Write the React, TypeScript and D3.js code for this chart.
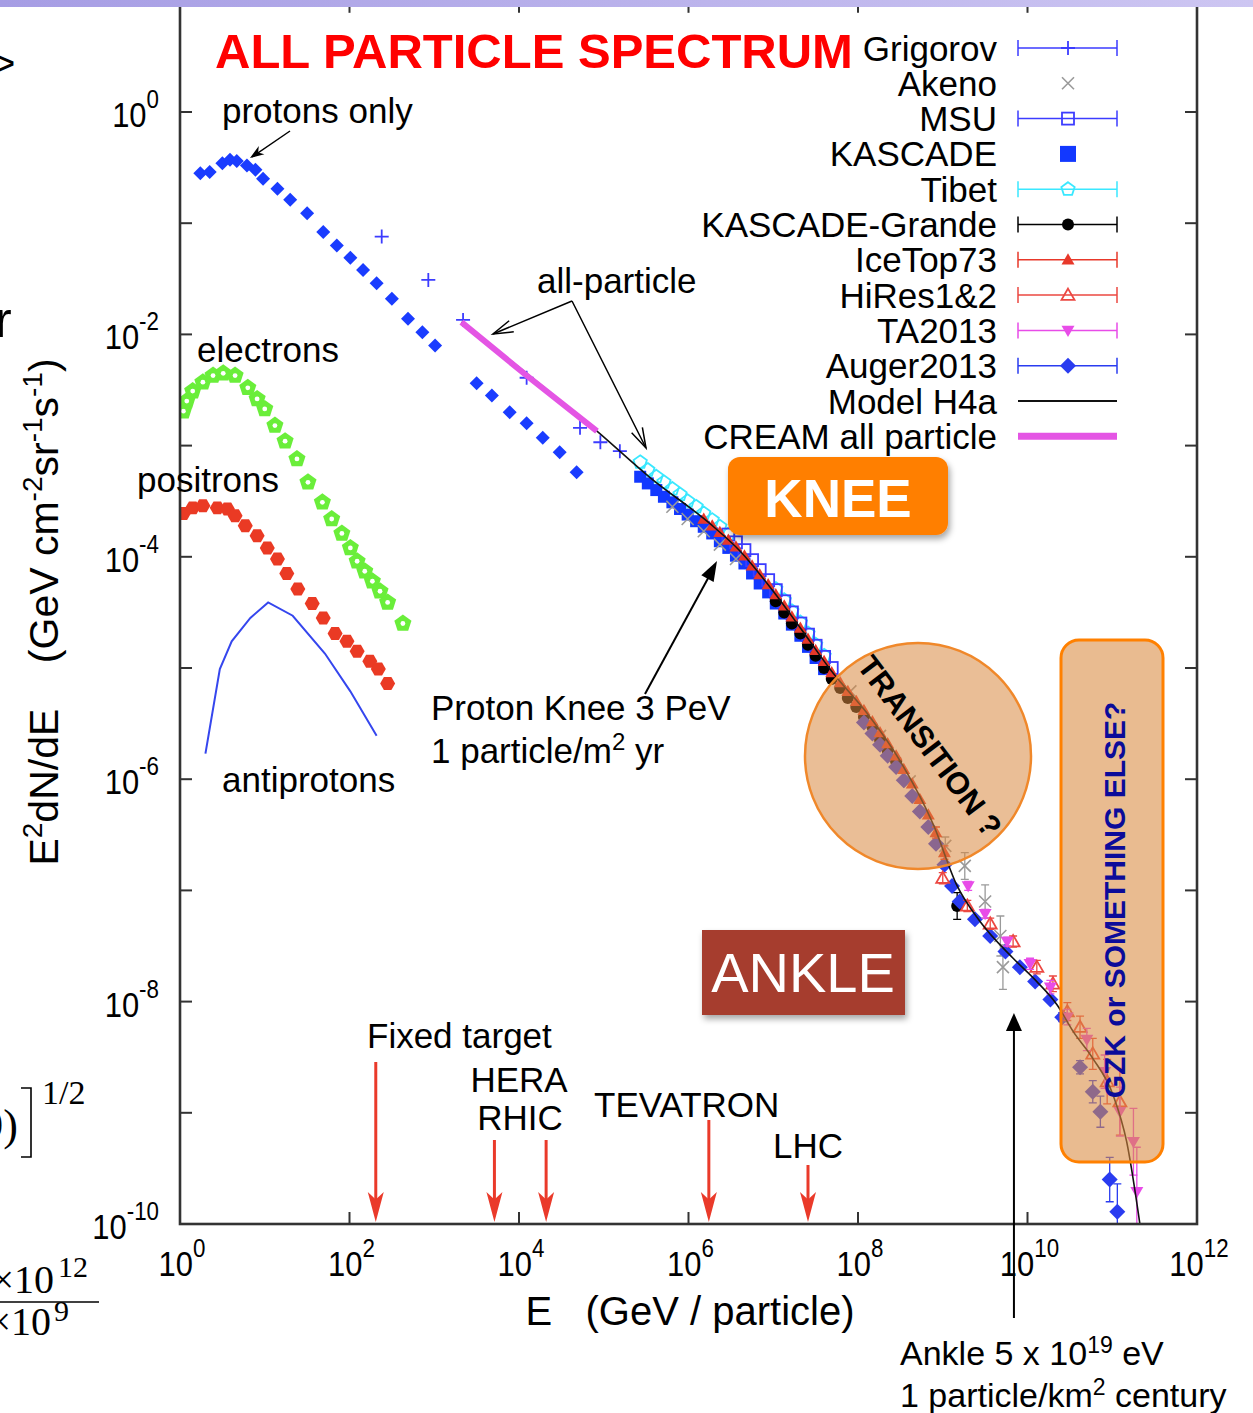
import React from "react";
import * as d3 from "d3";

// every pair is [log10(E / GeV), log10(E^2 dN/dE)], optional third value = error (log10 units)
const protons = [
  [0.24, -0.55], [0.35, -0.54], [0.5, -0.46], [0.59, -0.43], [0.67, -0.44], [0.79, -0.48],
  [0.89, -0.52], [0.98, -0.6], [1.15, -0.69], [1.3, -0.79], [1.5, -0.91], [1.69, -1.08],
  [1.85, -1.2], [2.01, -1.31], [2.16, -1.42], [2.32, -1.54], [2.5, -1.68], [2.69, -1.86],
  [2.86, -1.98], [3.01, -2.1], [3.5, -2.44], [3.68, -2.55], [3.89, -2.7], [4.09, -2.8],
  [4.28, -2.93], [4.48, -3.06], [4.68, -3.24],
];
const electrons = [
  [0.04, -2.69], [0.08, -2.6], [0.15, -2.51], [0.27, -2.43], [0.39, -2.37], [0.51, -2.35],
  [0.65, -2.37], [0.8, -2.48], [0.91, -2.58], [1.0, -2.67], [1.12, -2.82], [1.24, -2.96],
  [1.38, -3.12], [1.51, -3.33], [1.68, -3.51], [1.79, -3.66], [1.91, -3.79], [2.01, -3.92],
  [2.09, -4.04], [2.18, -4.13], [2.27, -4.22], [2.36, -4.31], [2.45, -4.41], [2.63, -4.6],
];
const positrons = [
  [0.04, -3.61], [0.15, -3.56], [0.27, -3.54], [0.44, -3.56], [0.56, -3.57], [0.65, -3.63],
  [0.77, -3.72], [0.91, -3.81], [1.03, -3.92], [1.15, -4.02], [1.26, -4.15], [1.39, -4.29],
  [1.56, -4.42], [1.69, -4.55], [1.83, -4.69], [1.97, -4.76], [2.09, -4.85], [2.24, -4.94],
  [2.34, -5.01], [2.45, -5.14],
];
const antiprotons = [
  [0.3, -5.77], [0.47, -5.01], [0.61, -4.76], [0.83, -4.55], [1.04, -4.41], [1.33, -4.53],
  [1.71, -4.87], [2.01, -5.21], [2.32, -5.61],
];
const grigorov = [[2.38, -1.12], [2.93, -1.51], [3.34, -1.87], [4.09, -2.39], [4.72, -2.84], [4.96, -2.97], [5.19, -3.05]];
const akeno = [
  [5.81, -3.55], [5.99, -3.66], [6.18, -3.77], [6.37, -3.89], [6.56, -4.02],
  [7.91, -5.21], [8.26, -5.61], [8.61, -6.02],
  [9.03, -6.6, 0.08], [9.26, -6.78, 0.12], [9.5, -7.1, 0.15], [9.68, -7.41, 0.18], [9.71, -7.69, 0.2],
];
const msu = [
  [6.47, -3.8], [6.56, -3.87], [6.66, -3.94], [6.75, -4.03], [6.84, -4.12], [6.94, -4.21], [7.03, -4.3],
  [7.13, -4.4], [7.22, -4.5], [7.32, -4.6], [7.41, -4.7], [7.5, -4.8], [7.6, -4.9], [7.69, -5.0],
];
const kascade = [
  [5.43, -3.28], [5.52, -3.34], [5.62, -3.4], [5.71, -3.46], [5.81, -3.51], [5.9, -3.57],
  [5.99, -3.62], [6.09, -3.68], [6.18, -3.73], [6.28, -3.79], [6.37, -3.86], [6.47, -3.92],
  [6.56, -3.99], [6.66, -4.06], [6.75, -4.15], [6.84, -4.24], [6.94, -4.32], [7.03, -4.42],
  [7.13, -4.51], [7.22, -4.61], [7.32, -4.71], [7.41, -4.81], [7.5, -4.91], [7.6, -5.01],
];
const tibet = [
  [5.43, -3.15], [5.52, -3.22], [5.62, -3.28], [5.71, -3.33], [5.81, -3.39], [5.9, -3.44],
  [5.99, -3.5], [6.09, -3.55], [6.18, -3.61], [6.28, -3.67], [6.37, -3.73], [6.47, -3.8],
  [7.03, -4.29], [7.13, -4.39], [7.22, -4.49], [7.32, -4.59], [7.41, -4.69], [7.5, -4.79], [7.6, -4.89],
];
const kascadeGrande = [
  [7.03, -4.4], [7.13, -4.5], [7.22, -4.6], [7.32, -4.69], [7.41, -4.79], [7.5, -4.89],
  [7.6, -5.0], [7.69, -5.1], [7.79, -5.18], [7.88, -5.27], [7.98, -5.35], [8.07, -5.44],
  [8.17, -5.53], [8.26, -5.64], [8.35, -5.74], [8.45, -5.84], [9.17, -7.14, 0.12],
];
const iceTop = [
  [6.18, -3.66], [6.28, -3.72], [6.37, -3.78], [6.47, -3.85], [6.56, -3.91], [6.66, -3.99],
  [6.75, -4.08], [6.84, -4.16], [6.94, -4.25], [7.03, -4.34], [7.13, -4.44], [7.22, -4.54],
  [7.32, -4.64], [7.41, -4.74], [7.5, -4.84], [7.6, -4.94], [7.69, -5.04], [7.79, -5.13],
  [7.88, -5.21], [7.98, -5.3], [8.07, -5.38], [8.17, -5.48], [8.26, -5.58], [8.35, -5.68],
  [8.45, -5.79], [8.54, -5.91], [8.64, -6.04], [8.73, -6.18], [8.83, -6.32], [8.92, -6.48, 0.05], [9.02, -6.66, 0.06],
];
const hires = [
  [9.0, -6.89, 0.05], [9.29, -7.14, 0.05], [9.56, -7.3, 0.05], [9.83, -7.46, 0.05], [10.11, -7.69, 0.06],
  [10.3, -7.84, 0.07], [10.47, -8.09, 0.08], [10.62, -8.23, 0.1], [10.77, -8.47, 0.14], [10.94, -8.72, 0.2], [11.09, -8.9, 0.3],
];
const ta2013 = [
  [9.3, -6.96, 0.04], [9.5, -7.21, 0.04], [9.76, -7.46, 0.04], [10.03, -7.66, 0.05], [10.27, -7.87, 0.06],
  [10.47, -8.14, 0.07], [10.7, -8.34, 0.1], [10.91, -8.63, 0.15], [11.09, -8.99, 0.22], [11.25, -9.26, 0.3], [11.29, -9.71, 0.4],
];
const auger2013 = [
  [8.07, -5.49], [8.17, -5.59], [8.26, -5.69], [8.35, -5.79], [8.45, -5.89], [8.54, -6.01],
  [8.64, -6.15], [8.73, -6.29], [8.83, -6.43], [8.92, -6.58], [9.02, -6.77], [9.11, -6.96],
  [9.2, -7.1], [9.38, -7.26], [9.56, -7.41], [9.74, -7.55], [9.91, -7.69], [10.09, -7.82],
  [10.27, -7.98], [10.41, -8.14, 0.04], [10.62, -8.59, 0.06], [10.77, -8.81, 0.1], [10.86, -8.99, 0.14],
  [10.97, -9.6, 0.2], [11.06, -9.89, 0.25],
];
const modelH4a = [
  [3.32, -1.89], [4.09, -2.35], [4.92, -2.87], [5.55, -3.29], [6.25, -3.7], [6.61, -3.95],
  [7.0, -4.31], [7.32, -4.64], [7.71, -5.05], [8.11, -5.41], [8.5, -5.84], [8.89, -6.41],
  [9.17, -6.96], [9.44, -7.28], [9.83, -7.61], [10.11, -7.82], [10.35, -8.03], [10.54, -8.27],
  [10.77, -8.51], [11.01, -8.84], [11.17, -9.26], [11.33, -10.02],
];
const cream = [[3.32, -1.89], [4.09, -2.37], [4.92, -2.87]];

// accelerator equivalent energies (log10 GeV) and where their arrows start
const colliders = [
  { e: 2.31, top: 1062 }, { e: 3.71, top: 1140 }, { e: 4.32, top: 1140 },
  { e: 6.24, top: 1120 }, { e: 7.41, top: 1165 },
];
const ankleE = 9.84;

const xTickExps = [0, 2, 4, 6, 8, 10, 12];
const yTickExps = [0, -1, -2, -3, -4, -5, -6, -7, -8, -9, -10];
const yLabelExps = [0, -2, -4, -6, -8, -10];

const series = [
  { name: "Grigorov", data: grigorov, kind: "plus", color: "#3c3cff", bars: true },
  { name: "Akeno", data: akeno, kind: "x", color: "#9a9a9a", bars: false },
  { name: "MSU", data: msu, kind: "sqo", color: "#3c3cff", bars: true },
  { name: "KASCADE", data: kascade, kind: "sq", color: "#1238ff", bars: false },
  { name: "Tibet", data: tibet, kind: "pento", color: "#3ae8ff", bars: true },
  { name: "KASCADE-Grande", data: kascadeGrande, kind: "circ", color: "#000000", bars: true },
  { name: "IceTop73", data: iceTop, kind: "tri", color: "#e8382a", bars: true },
  { name: "HiRes1&2", data: hires, kind: "trio", color: "#ec4842", bars: true },
  { name: "TA2013", data: ta2013, kind: "trid", color: "#e84ce8", bars: true },
  { name: "Auger2013", data: auger2013, kind: "diam", color: "#2a3cf0", bars: true },
];
const drawOrder = ["Tibet", "KASCADE", "MSU", "Akeno", "KASCADE-Grande", "Auger2013", "IceTop73", "HiRes1&2", "TA2013", "Grigorov"];

const FONT = "'Liberation Sans', Arial, Helvetica, sans-serif";

function polyPath(cx, cy, r, n, rot) {
  const pts = d3.range(n).map((i) => {
    const a = rot + (i * 2 * Math.PI) / n;
    return [cx + r * Math.cos(a), cy + r * Math.sin(a)];
  });
  return "M" + pts.map((p) => p.join(",")).join("L") + "Z";
}

function Marker({ kind, cx, cy, c, s = 6 }) {
  switch (kind) {
    case "plus":
      return <path d={`M${cx - 7},${cy}H${cx + 7}M${cx},${cy - 7}V${cy + 7}`} stroke={c} strokeWidth={1.8} fill="none" />;
    case "x":
      return <path d={`M${cx - s},${cy - s}L${cx + s},${cy + s}M${cx - s},${cy + s}L${cx + s},${cy - s}`} stroke={c} strokeWidth={1.6} fill="none" />;
    case "sq":
      return <rect x={cx - s} y={cy - s} width={2 * s} height={2 * s} fill={c} />;
    case "sqo":
      return <rect x={cx - s} y={cy - s} width={2 * s} height={2 * s} fill="none" stroke={c} strokeWidth={1.8} />;
    case "pento":
      return <path d={polyPath(cx, cy, s + 1, 5, -Math.PI / 2)} fill="none" stroke={c} strokeWidth={1.8} />;
    case "circ":
      return <circle cx={cx} cy={cy} r={s} fill={c} />;
    case "tri":
      return <path d={polyPath(cx, cy + 1, s + 1.5, 3, -Math.PI / 2)} fill={c} />;
    case "trio":
      return <path d={polyPath(cx, cy + 1, s + 1.5, 3, -Math.PI / 2)} fill="none" stroke={c} strokeWidth={1.8} />;
    case "trid":
      return <path d={polyPath(cx, cy - 1, s + 1.5, 3, Math.PI / 2)} fill={c} />;
    case "diam":
      return <path d={polyPath(cx, cy, s + 2, 4, 0)} fill={c} />;
    case "elec":
      return (
        <g>
          <path d={polyPath(cx, cy, 9, 5, -Math.PI / 2)} fill="#6aee3a" />
          <circle cx={cx} cy={cy} r={2.4} fill="#ffffff" />
        </g>
      );
    case "hex":
      return <path d={polyPath(cx, cy, 7.5, 6, 0)} fill="#ea3a24" />;
    default:
      return null;
  }
}

function head(x1, y1, x2, y2, len, hw, notch = 0) {
  const a = Math.atan2(y2 - y1, x2 - x1);
  const bx = x2 - len * Math.cos(a), by = y2 - len * Math.sin(a);
  const nx = -Math.sin(a) * hw, ny = Math.cos(a) * hw;
  if (notch > 0) {
    const mx = x2 - len * (1 - notch) * Math.cos(a), my = y2 - len * (1 - notch) * Math.sin(a);
    return `M${bx + nx},${by + ny}L${x2},${y2}L${bx - nx},${by - ny}L${mx},${my}Z`;
  }
  return `M${bx + nx},${by + ny}L${x2},${y2}L${bx - nx},${by - ny}`;
}

export default function App() {
  const x = d3.scaleLog().domain([1, 1e12]).range([180, 1197]);
  const y = d3.scaleLog().domain([1e-10, 10]).range([1224, 0.8]);
  const X = (l) => x(Math.pow(10, l));
  const Y = (l) => y(Math.pow(10, l));
  const line = d3.line().x((d) => X(d[0])).y((d) => Y(d[1]));
  const curve = d3.line().x((d) => X(d[0])).y((d) => Y(d[1])).curve(d3.curveMonotoneX);

  const [x0, x1] = x.range();
  const [yb, yt] = y.range();
  const byName = Object.fromEntries(series.map((s) => [s.name, s]));
  const legendRowY = (i) => 48 + i * 35.3;

  return (
    <svg width={1253} height={1413} style={{ position: "absolute", left: 0, top: 0, fontFamily: FONT }}>
      <defs>
        <clipPath id="plot">
          <rect x={x0} y={yt} width={x1 - x0} height={yb - yt} />
        </clipPath>
        <filter id="shadow" x="-20%" y="-20%" width="140%" height="160%">
          <feDropShadow dx="2" dy="4" stdDeviation="3" floodColor="#000" floodOpacity="0.35" />
        </filter>
        <linearGradient id="topbar" x1="0" x2="1" y1="0" y2="0">
          <stop offset="0" stopColor="#a69de4" />
          <stop offset="1" stopColor="#cdc6f2" />
        </linearGradient>
      </defs>
      <rect width={1253} height={1413} fill="#ffffff" />

      {/* fragments of the surrounding slide */}
      <text x={-8} y={77} fontSize={40}>&gt;</text>
      <text x={-5} y={337} fontSize={50}>r</text>
      <g fontFamily="'Liberation Serif', 'DejaVu Serif', serif">
        <text x={18} y={1140} fontSize={44} textAnchor="end">9)</text>
        <path d="M21,1088H31V1157H21" fill="none" stroke="#000" strokeWidth={1.6} />
        <text x={42} y={1104} fontSize={34}>1/2</text>
        <text x={54} y={1293} fontSize={40} textAnchor="end">×10</text>
        <text x={58} y={1277} fontSize={30}>12</text>
        <line x1={0} x2={99} y1={1302} y2={1302} stroke="#000" strokeWidth={1.6} />
        <text x={51} y={1335} fontSize={40} textAnchor="end">×10</text>
        <text x={54} y={1321} fontSize={30}>9</text>
      </g>

      {/* data */}
      <g clipPath="url(#plot)">
        <path d={line(antiprotons)} fill="none" stroke="#3546ee" strokeWidth={2} />
        {positrons.map((d, i) => <Marker key={"p" + i} kind="hex" cx={X(d[0])} cy={Y(d[1])} />)}
        {electrons.map((d, i) => <Marker key={"e" + i} kind="elec" cx={X(d[0])} cy={Y(d[1])} />)}
        {protons.map((d, i) => <Marker key={"pr" + i} kind="diam" cx={X(d[0])} cy={Y(d[1])} c="#1a3cff" s={5} />)}
        {drawOrder.map((n) => {
          const s = byName[n];
          return (
            <g key={n}>
              {s.data.map((d, i) => {
                const cx = X(d[0]), cy = Y(d[1]);
                const err = d[2] || 0;
                return (
                  <g key={i}>
                    {err > 0 && (
                      <path
                        d={`M${cx},${Y(d[1] + err)}V${Y(d[1] - err)}M${cx - 4},${Y(d[1] + err)}H${cx + 4}M${cx - 4},${Y(d[1] - err)}H${cx + 4}`}
                        stroke={s.color}
                        strokeWidth={1.3}
                        fill="none"
                      />
                    )}
                    <Marker kind={s.kind} cx={cx} cy={cy} c={s.color} />
                  </g>
                );
              })}
            </g>
          );
        })}
        <path d={curve(modelH4a)} fill="none" stroke="#111" strokeWidth={1.6} />
        <path d={line(cream)} fill="none" stroke="#e455e4" strokeWidth={6} />
      </g>

      {/* frame and ticks */}
      <rect x={x0} y={yt} width={x1 - x0} height={yb - yt} fill="none" stroke="#333" strokeWidth={2.6} />
      {yTickExps.slice(0, -1).map((e) => (
        <g key={"yt" + e} stroke="#333" strokeWidth={2}>
          <line x1={x0} x2={x0 + 12} y1={Y(e)} y2={Y(e)} />
          <line x1={x1} x2={x1 - 12} y1={Y(e)} y2={Y(e)} />
        </g>
      ))}
      {xTickExps.slice(1, -1).map((e) => (
        <g key={"xt" + e} stroke="#333" strokeWidth={2}>
          <line x1={X(e)} x2={X(e)} y1={yb} y2={yb - 12} />
          <line x1={X(e)} x2={X(e)} y1={yt} y2={yt + 12} />
        </g>
      ))}
      {yLabelExps.map((e) => (
        <g key={"yl" + e} transform={`translate(159,${Y(e) + 15}) scale(0.86,1)`}>
          <text textAnchor="end" fontSize={36}>
            10<tspan fontSize={26} dy={-19}>{e}</tspan>
          </text>
        </g>
      ))}
      {xTickExps.map((e) => (
        <g key={"xl" + e} transform={`translate(${X(e) + 2},1276) scale(0.86,1)`}>
          <text textAnchor="middle" fontSize={36}>
            10<tspan fontSize={26} dy={-19}>{e}</tspan>
          </text>
        </g>
      ))}

      {/* axis titles */}
      <text x={690} y={1325} fontSize={40} textAnchor="middle" style={{ whiteSpace: "pre" }}>
        E   (GeV / particle)
      </text>
      <text transform="translate(58,612) rotate(-90)" fontSize={41} textAnchor="middle" style={{ whiteSpace: "pre" }}>
        E<tspan fontSize={28} dy={-16}>2</tspan>
        <tspan dy={16}>dN/dE    (GeV cm</tspan>
        <tspan fontSize={28} dy={-16}>-2</tspan>
        <tspan dy={16}>sr</tspan>
        <tspan fontSize={28} dy={-16}>-1</tspan>
        <tspan dy={16}>s</tspan>
        <tspan fontSize={28} dy={-16}>-1</tspan>
        <tspan dy={16}>)</tspan>
      </text>

      {/* title and legend */}
      <text x={215} y={68} fontSize={49} fontWeight="bold" fill="#ff0000">ALL PARTICLE SPECTRUM</text>
      {series.map((s, i) => {
        const cy = legendRowY(i);
        return (
          <g key={s.name}>
            <text x={997} y={cy + 12.5} fontSize={35} textAnchor="end">{s.name}</text>
            {s.bars && (
              <path d={`M1018,${cy}H1117M1018,${cy - 8}V${cy + 8}M1117,${cy - 8}V${cy + 8}`} stroke={s.color} strokeWidth={1.5} fill="none" />
            )}
            <Marker kind={s.kind} cx={1068} cy={cy} c={s.color} s={s.kind === "sq" ? 8 : 6} />
          </g>
        );
      })}
      <text x={997} y={legendRowY(10) + 12.5} fontSize={35} textAnchor="end">Model H4a</text>
      <line x1={1018} x2={1117} y1={legendRowY(10)} y2={legendRowY(10)} stroke="#111" strokeWidth={2} />
      <text x={997} y={legendRowY(11) + 12.5} fontSize={35} textAnchor="end">CREAM all particle</text>
      <line x1={1018} x2={1117} y1={legendRowY(11)} y2={legendRowY(11)} stroke="#e455e4" strokeWidth={7} />

      {/* particle annotations */}
      <text x={222} y={123} fontSize={35}>protons only</text>
      <line x1={290} y1={131} x2={252} y2={157} stroke="#000" strokeWidth={1.5} />
      <path d={head(290, 131, 250, 158, 14, 5, 0.3)} fill="#000" />
      <text x={197} y={362} fontSize={35}>electrons</text>
      <text x={137} y={492} fontSize={35}>positrons</text>
      <text x={222} y={792} fontSize={35}>antiprotons</text>
      <text x={537} y={293} fontSize={35}>all-particle</text>
      <path d={`M572,301L493,334M572,301L646,448`} stroke="#000" strokeWidth={1.5} fill="none" />
      <path d={head(572, 301, 493, 334, 20, 6)} stroke="#000" strokeWidth={1.5} fill="none" />
      <path d={head(572, 301, 646, 448, 20, 6)} stroke="#000" strokeWidth={1.5} fill="none" />

      {/* knee */}
      <rect x={728} y={457} width={220} height={78} rx={12} fill="#ff7f00" filter="url(#shadow)" />
      <text x={838} y={517} fontSize={53} fontWeight="bold" fill="#ffffff" textAnchor="middle">KNEE</text>
      <text x={431} y={720} fontSize={35}>Proton Knee 3 PeV</text>
      <text x={431} y={763} fontSize={35}>
        1 particle/m<tspan fontSize={24} dy={-13}>2</tspan><tspan dy={13}> yr</tspan>
      </text>
      <line x1={645} y1={694} x2={712} y2={571} stroke="#000" strokeWidth={2} />
      <path d={head(645, 694, 717, 561, 20, 7) + "Z"} fill="#000" />

      {/* transition */}
      <circle cx={918} cy={756} r={113} fill="#d9893f" fillOpacity={0.55} stroke="#f0882a" strokeWidth={2.5} />
      <text transform="translate(930,746) rotate(53)" fontSize={31} fontWeight="bold" textAnchor="middle" dy={11}>
        TRANSITION ?
      </text>

      {/* ankle */}
      <rect x={702} y={930} width={203} height={85} fill="#a63e2d" filter="url(#shadow)" />
      <text x={803} y={992} fontSize={56} fill="#ffffff" textAnchor="middle">ANKLE</text>
      <line x1={X(ankleE)} y1={1318} x2={X(ankleE)} y2={1028} stroke="#000" strokeWidth={2} />
      <path d={head(X(ankleE), 1318, X(ankleE), 1013, 18, 8) + "Z"} fill="#000" />
      <text x={900} y={1365} fontSize={34}>
        Ankle 5 x 10<tspan fontSize={23} dy={-12}>19</tspan><tspan dy={12}> eV</tspan>
      </text>
      <text x={900} y={1407} fontSize={34}>
        1 particle/km<tspan fontSize={23} dy={-12}>2</tspan><tspan dy={12}> century</tspan>
      </text>

      {/* GZK */}
      <rect x={1061} y={640} width={102} height={522} rx={18} fill="#d9893f" fillOpacity={0.58} stroke="#ff8000" strokeWidth={3} />
      <text transform="translate(1125,900) rotate(-90)" fontSize={30} fontWeight="bold" fill="#0b0b9a" textAnchor="middle">
        GZK or SOMETHING ELSE?
      </text>

      {/* accelerators */}
      {colliders.map((c, i) => (
        <g key={"acc" + i}>
          <line x1={X(c.e)} x2={X(c.e)} y1={c.top} y2={1200} stroke="#ea3a2a" strokeWidth={3} />
          <path d={head(X(c.e), c.top, X(c.e), 1222, 30, 8, 0.25)} fill="#ea3a2a" />
        </g>
      ))}
      <text x={367} y={1048} fontSize={35}>Fixed target</text>
      <text x={519} y={1092} fontSize={35} textAnchor="middle">HERA</text>
      <text x={520} y={1130} fontSize={35} textAnchor="middle">RHIC</text>
      <text x={594} y={1117} fontSize={35}>TEVATRON</text>
      <text x={773} y={1158} fontSize={35}>LHC</text>

      <rect x={0} y={0} width={1253} height={7} fill="url(#topbar)" />
    </svg>
  );
}
